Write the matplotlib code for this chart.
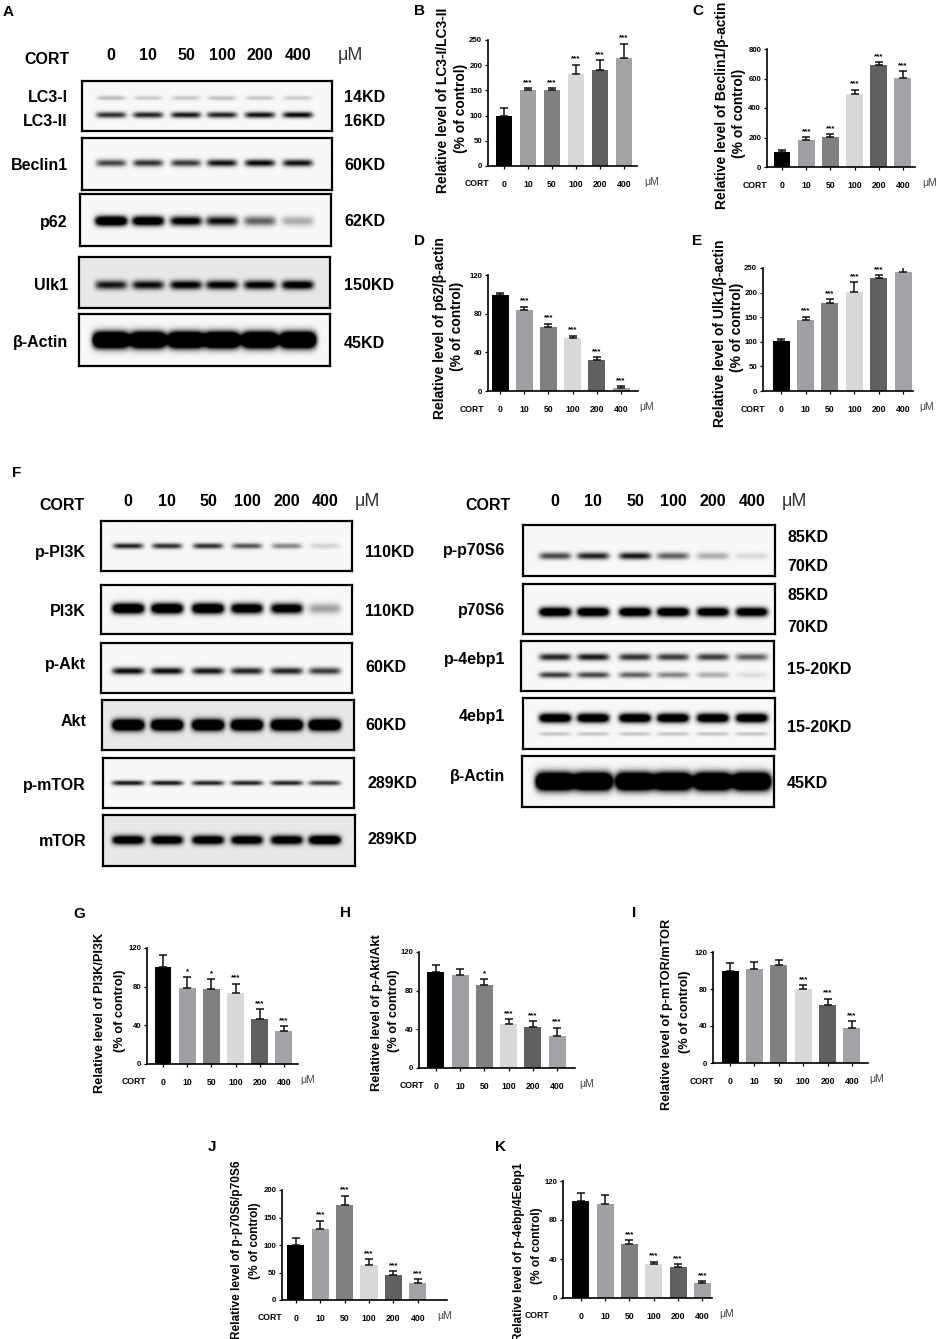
import numpy as np
import matplotlib
matplotlib.use("Agg")
import matplotlib.pyplot as plt
from matplotlib import font_manager

W, H = 941, 1339
avail = {f.name for f in font_manager.fontManager.ttflist}
SANS = 'Liberation Sans'
NARROW = 'Liberation Sans Narrow' if 'Liberation Sans Narrow' in avail else 'Liberation Sans'

doses = ['0', '10', '50', '100', '200', '400']
bar_colors = ['#000000', '#9fa0a4', '#808080', '#d8d8d8', '#606060', '#a3a3a7']

# bar chart data (% of control)
lc3_vals = [100, 151, 150, 183, 191, 215]
lc3_err = [16, 3, 5, 18, 19, 28]
beclin_vals = [104, 181, 201, 497, 691, 606]
beclin_err = [9, 22, 20, 27, 18, 45]
p62_vals = [99, 84, 66, 55, 32.5, 3.5]
p62_err = [2.4, 3.4, 3.5, 2.4, 2.8, 1.3]
ulk1_vals = [101.5, 144, 178.5, 201, 229.5, 242]
ulk1_err = [3.4, 6.8, 8, 20, 6, 9.5]
pi3k_vals = [100, 78.6, 77.6, 73.4, 47, 34.5]
pi3k_err = [13, 11, 10, 9.6, 10, 4.5]
akt_vals = [99.2, 96, 86, 45.8, 42.7, 33.3]
akt_err = [7, 6.5, 6.2, 4.5, 5.9, 8.3]
mtor_vals = [99.6, 101.4, 106, 79.6, 63, 38.3]
mtor_err = [8, 7.6, 5.7, 4.3, 6.5, 6.8]
p70_vals = [100.3, 129.5, 172, 63.2, 46.2, 31.6]
p70_err = [12, 15, 18, 11, 6, 6.7]
ebp_vals = [99.8, 96.8, 55.7, 34.5, 31.8, 15.4]
ebp_err = [8, 8.5, 3.4, 2.8, 2.7, 1.7]

stars_all = ['', '***', '***', '***', '***', '***']
stars_pi3k = ['', '*', '*', '***', '***', '***']
stars_akt = ['', '', '*', '***', '***', '***']
stars_mtor = ['', '', '', '***', '***', '***']
stars_ebp = ['', '', '***', '***', '***', '***']

# western blot band darkness per lane (0 = none, >1 saturated)
lc3i_band = [0.25, 0.18, 0.2, 0.22, 0.2, 0.18]
lc3ii_band = [0.8, 0.85, 0.9, 0.85, 0.92, 0.97]
beclin_band = [0.7, 0.78, 0.75, 0.92, 0.97, 0.92]
p62_band = [1.6, 1.4, 1.1, 0.95, 0.6, 0.3]
ulk1_band = [0.85, 0.9, 1.0, 1.0, 1.0, 1.1]
actin_band = [2.5, 2.5, 2.5, 2.5, 2.5, 2.5]
ppi3k_band = [0.85, 0.8, 0.8, 0.65, 0.45, 0.15]
pi3k_band = [1.6, 1.6, 1.6, 1.4, 1.3, 0.35]
pakt_band = [0.95, 0.95, 0.9, 0.85, 0.85, 0.75]
akt_band = [1.8, 1.8, 1.8, 1.8, 1.8, 1.8]
pmtor_band = [0.9, 0.9, 0.85, 0.85, 0.85, 0.75]
mtor_band = [1.3, 1.3, 1.3, 1.3, 1.3, 1.5]
pp70_band = [0.7, 0.85, 0.9, 0.6, 0.3, 0.12]
p70_band = [1.5, 1.5, 1.5, 1.5, 1.4, 1.4]
p4ebp_up_band = [0.85, 0.9, 0.8, 0.75, 0.75, 0.6]
p4ebp_low_band = [0.75, 0.7, 0.6, 0.45, 0.3, 0.1]
ebp_band = [1.5, 1.5, 1.5, 1.5, 1.5, 1.5]
ebp_low_band = [0.2, 0.2, 0.2, 0.2, 0.2, 0.2]

fig = plt.figure(figsize=(W / 100, H / 100), dpi=100)


def px_axes(x0, y0, x1, y1):
    return fig.add_axes([x0 / W, 1 - y1 / H, (x1 - x0) / W, (y1 - y0) / H])


def ftext(x, y, s, **kw):
    fig.text(x / W, 1 - y / H, s, **kw)


def blot(box, lanes, rows, bg=0.03):
    x0, y0, x1, y1 = box
    ax = px_axes(x0, y0, x1, y1)
    X, Y = np.meshgrid(np.linspace(x0, x1, 400), np.linspace(y0, y1, 150))
    img = np.full(X.shape, bg)
    for yc, sy, hw, dark in rows:
        for xc, a in zip(lanes, dark):
            img += a * np.exp(-((X - xc) / hw) ** 6) * np.exp(-((Y - yc) / sy) ** 2)
    ax.imshow(np.clip(img, 0, 1), cmap='gray_r', vmin=0, vmax=1,
              extent=(x0, x1, y1, y0), aspect='auto', interpolation='bilinear')
    ax.set_xlim(x0, x1)
    ax.set_ylim(y1, y0)
    ax.set_xticks([])
    ax.set_yticks([])
    for sp in ax.spines.values():
        sp.set_linewidth(1.6)
    return ax


def header(lanes, y, cort_x, mu_x):
    ftext(cort_x, y + 4, 'CORT', fontsize=11.5, family=NARROW, fontweight='bold', ha='center', va='center')
    for xc, d in zip(lanes, doses):
        ftext(xc, y, d, fontsize=11.5, family=NARROW, fontweight='bold', ha='center', va='center')
    ftext(mu_x, y, 'μM', fontsize=13, family=SANS, ha='center', va='center', color='#333333')


def side(x, y, s, ha):
    ftext(x, y, s, fontsize=11.5, family=NARROW, fontweight='bold', ha=ha, va='center')


def bar_panel(box, xlim, vals, errs, stars, ymax, step, lines, lab_pos, cort_px, mu_px, fs=9.5):
    x0, y0, x1, y1 = box
    ax = px_axes(x0, y0, x1, y1)
    x = np.arange(len(vals))
    ax.bar(x, vals, width=0.7, color=bar_colors, edgecolor='none', zorder=2)
    ax.errorbar(x, vals, yerr=[np.zeros(len(errs)), errs], fmt='none', ecolor='#111111',
                elinewidth=1.1, capsize=3.2, capthick=1.1, zorder=3)
    for xi, v, e, s in zip(x, vals, errs, stars):
        if s:
            ax.annotate(s, xy=(xi, v + e), xytext=(0, 1.5), textcoords='offset points',
                        ha='center', va='bottom', fontsize=5.8, family=SANS, fontweight='bold')
    ax.set_xlim(*xlim)
    ax.set_ylim(0, ymax)
    ax.set_yticks(np.arange(0, ymax + 1, step))
    ax.set_xticks(x)
    ax.set_xticklabels([])
    ax.tick_params(axis='both', length=2.2, width=0.9, labelsize=5.6, pad=2)
    for t in ax.get_yticklabels():
        t.set_family(NARROW)
        t.set_fontweight('bold')
    ax.spines['top'].set_visible(False)
    ax.spines['right'].set_visible(False)
    ax.spines['left'].set_linewidth(1.2)
    ax.spines['bottom'].set_linewidth(1.2)
    ax.patch.set_alpha(0)
    for xi, d in zip(x, doses):
        ax.annotate(d, xy=(xi, 0), xycoords=('data', 'axes fraction'), xytext=(0, -13),
                    textcoords='offset points', ha='center', va='center', fontsize=6.2,
                    family=NARROW, fontweight='bold')
    ty = y1 + 18
    ftext(cort_px, ty, 'CORT', fontsize=6.2, family=NARROW, fontweight='bold', ha='center', va='center')
    ftext(mu_px, ty - 2, 'μM', fontsize=7.5, family=SANS, ha='center', va='center', color='#444444')
    (lx1, ly1), (lx2, ly2) = lab_pos
    ftext(lx1, ly1, lines[0], rotation=90, fontsize=fs, family=SANS, fontweight='bold', ha='center', va='center')
    ftext(lx2, ly2, lines[1], rotation=90, fontsize=fs, family=SANS, fontweight='bold', ha='center', va='center')
    return ax


def letter(x, y, s):
    ftext(x, y, s, fontsize=11, family=SANS, fontweight='bold', ha='left', va='center')


# ---------------- panel A ----------------
A_lanes = [111, 148, 186, 222, 260, 298]
letter(3, 12, 'A')
header(A_lanes, 56, 47, 350)
blot((82, 81, 332, 131), A_lanes, [(98, 2.2, 14, lc3i_band), (115, 3.0, 15, lc3ii_band)])
blot((82, 138, 332, 190), A_lanes, [(163, 3.5, 15, beclin_band)])
blot((80, 194, 331, 246), A_lanes, [(221, 4.8, 16, p62_band)])
blot((79, 257, 330, 308), A_lanes, [(285, 4.5, 16, ulk1_band)], bg=0.09)
blot((79, 314, 330, 366), A_lanes, [(340, 7.5, 18, actin_band)])
for y, s in [(97, 'LC3-I'), (121, 'LC3-II'), (165, 'Beclin1'), (222, 'p62'), (285, 'Ulk1'), (343, 'β-Actin')]:
    side(68, y, s, 'right')
for y, s in [(97, '14KD'), (121, '16KD'), (165, '60KD'), (221, '62KD'), (285, '150KD'), (343, '45KD')]:
    side(344, y, s, 'left')

# ---------------- panels B-E ----------------
letter(414, 11, 'B')
bar_panel((488, 40, 637, 166), (-0.667, 5.54), lc3_vals, lc3_err, stars_all, 250, 50,
          ['Relative level of LC3-I/LC3-II', '(% of control)'], [(443, 100), (461, 108)], 477, 652, fs=10)
letter(692, 11, 'C')
bar_panel((767, 49, 915, 167), (-0.62, 5.5), beclin_vals, beclin_err, stars_all, 800, 200,
          ['Relative level of Beclin1/β-actin', '(% of control)'], [(722, 105), (739, 113)], 755, 930, fs=10)
letter(414, 241, 'D')
bar_panel((488, 275, 638, 391), (-0.5, 5.7), p62_vals, p62_err, stars_all, 120, 40,
          ['Relative level of p62/β-actin', '(% of control)'], [(440, 328), (457, 326)], 472, 647, fs=10)
letter(692, 241, 'E')
bar_panel((763, 268, 913, 391), (-0.74, 5.4), ulk1_vals, ulk1_err, stars_all, 250, 50,
          ['Relative level of Ulk1/β-actin', '(% of control)'], [(720, 333), (737, 327)], 753, 927, fs=10)

# ---------------- panel F ----------------
letter(12, 473, 'F')
FL = [128, 167, 208, 247, 287, 325]
header(FL, 502, 62, 367)
blot((101, 521, 352, 571), FL, [(546, 2.8, 15, ppi3k_band)])
blot((101, 585, 352, 634), FL, [(609, 5.0, 16, pi3k_band)])
blot((101, 643, 352, 693), FL, [(671, 3.5, 16, pakt_band)])
blot((102, 700, 354, 750), FL, [(725, 5.5, 16, akt_band)], bg=0.09)
blot((103, 758, 354, 808), FL, [(783, 2.5, 16, pmtor_band)])
blot((103, 815, 355, 866), FL, [(840, 4.5, 16, mtor_band)], bg=0.09)
for y, s in [(553, 'p-PI3K'), (611, 'PI3K'), (665, 'p-Akt'), (721, 'Akt'), (785, 'p-mTOR'), (841, 'mTOR')]:
    side(86, y, s, 'right')
for y, s in [(553, '110KD'), (611, '110KD'), (668, '60KD'), (725, '60KD')]:
    side(365, y, s, 'left')
for y, s in [(783, '289KD'), (840, '289KD')]:
    side(368, y, s, 'left')

FR = [555, 593, 635, 673, 713, 752]
header(FR, 502, 488, 794)
blot((523, 525, 775, 576), FR, [(556, 3.5, 16, pp70_band)])
blot((523, 584, 775, 634), FR, [(612, 4.5, 16, p70_band)])
blot((521, 641, 774, 691), FR, [(657, 3.5, 16, p4ebp_up_band), (675, 3.0, 16, p4ebp_low_band)])
blot((523, 698, 775, 749), FR, [(718, 4.5, 16, ebp_band), (734, 2.0, 16, ebp_low_band)])
blot((522, 756, 774, 807), FR, [(782, 8.0, 19, actin_band)])
for y, s in [(550, 'p-p70S6'), (610, 'p70S6'), (660, 'p-4ebp1'), (717, '4ebp1'), (777, 'β-Actin')]:
    side(505, y, s, 'right')
for y, s in [(537, '85KD'), (567, '70KD'), (596, '85KD'), (627, '70KD'), (670, '15-20KD'), (727, '15-20KD'), (783, '45KD')]:
    side(787, y, s, 'left')

# ---------------- panels G-K ----------------
letter(73, 914, 'G')
bar_panel((147, 948, 298, 1064), (-0.66, 5.58), pi3k_vals, pi3k_err, stars_pi3k, 120, 40,
          ['Relative level of PI3K/PI3K', '(% of control)'], [(100, 1013), (120, 1011)], 134, 308, fs=9.2)
letter(340, 913, 'H')
bar_panel((419, 952, 575, 1068), (-0.7, 5.74), akt_vals, akt_err, stars_akt, 120, 40,
          ['Relative level of p-Akt/Akt', '(% of control)'], [(377, 1013), (394, 1011)], 412, 587, fs=9.2)
letter(632, 913, 'I')
bar_panel((713, 952, 868, 1063), (-0.7, 5.66), mtor_vals, mtor_err, stars_mtor, 120, 40,
          ['Relative level of p-mTOR/mTOR', '(% of control)'], [(667, 1014), (685, 1012)], 702, 877, fs=9.2)
letter(208, 1147, 'J')
bar_panel((282, 1190, 447, 1300), (-0.57, 6.2), p70_vals, p70_err, stars_all, 200, 50,
          ['Relative level of p-p70S6/p70S6', '(% of control)'], [(237, 1250), (255, 1241)], 270, 445, fs=8.6)
letter(495, 1147, 'K')
bar_panel((563, 1181, 712, 1298), (-0.74, 5.4), ebp_vals, ebp_err, stars_ebp, 120, 40,
          ['Relative level of p-4ebp/4Eebp1', '(% of control)'], [(519, 1252), (537, 1246)], 537, 727, fs=8.6)

fig.savefig('out.png', dpi=100)
